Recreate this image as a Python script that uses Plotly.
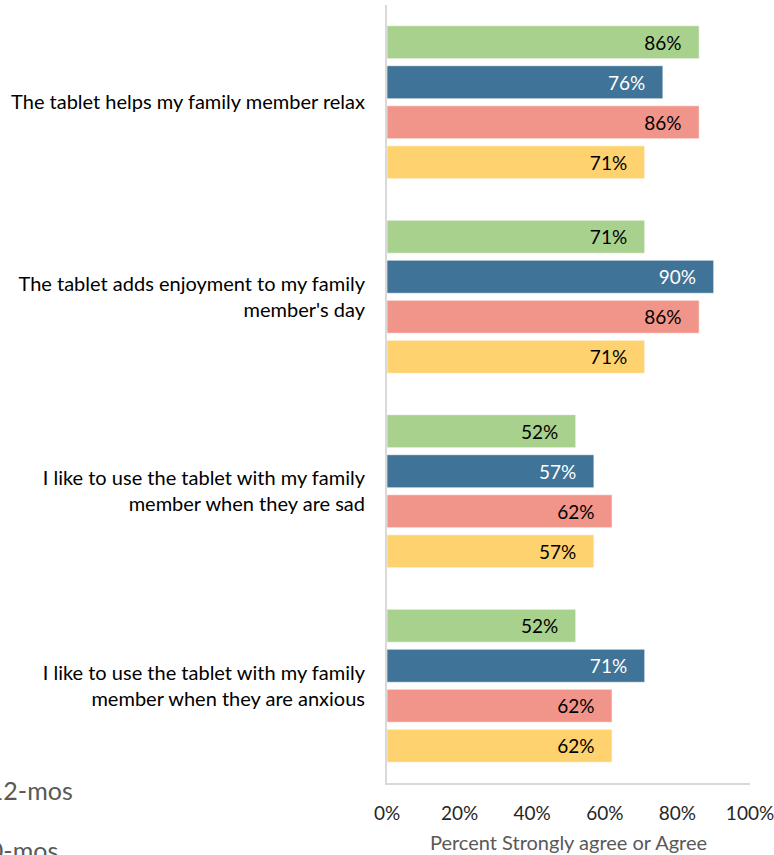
import plotly.graph_objects as go

# Survey statements (top to bottom)
statements = [
    "The tablet helps my family member relax",
    "The tablet adds enjoyment to my family<br>member's day",
    "I like to use the tablet with my family<br>member when they are sad",
    "I like to use the tablet with my family<br>member when they are anxious",
]

# Percent "Strongly agree or Agree" per time point
series_names = ["12-mos", "0-mos", "6-mos", "3-mos"]
green_vals = [86, 71, 52, 52]
blue_vals = [76, 90, 57, 71]
red_vals = [86, 86, 62, 62]
yellow_vals = [71, 71, 57, 62]

x_ticks = [0, 20, 40, 60, 80, 100]

colors = ["#A9D18E", "#3F7397", "#F1958A", "#FED26F"]
label_colors = ["#000000", "#FFFFFF", "#000000", "#000000"]
all_vals = [green_vals, blue_vals, red_vals, yellow_vals]

FONT = "Lato, Calibri, Carlito, sans-serif"
pad = "\u00a0\u00a0\u00a0"

fig = go.Figure()
for name, vals, col, lc in zip(series_names, all_vals, colors, label_colors):
    fig.add_trace(go.Bar(
        y=statements,
        x=vals,
        name=name,
        orientation="h",
        legendgroup=name,
        marker=dict(color=col, line=dict(color="rgba(255,255,255,0.6)", width=1)),
        texttemplate="%{x:.0f}%" + pad,
        textposition="inside",
        insidetextanchor="end",
        textangle=0,
        textfont=dict(family=FONT, size=19, color=lc),
        cliponaxis=False,
    ))

fig.update_layout(
    width=774,
    height=855,
    margin=dict(l=387, r=24, t=5, b=72, autoexpand=False),
    paper_bgcolor="white",
    plot_bgcolor="white",
    barmode="group",
    bargap=0.177,
    bargroupgap=0.175,
    uniformtext=dict(mode=False),
    font=dict(family=FONT, size=20, color="#000000"),
    showlegend=True,
    legend=dict(
        x=-1.207, xanchor="left",
        y=0.02, yanchor="top",
        font=dict(family=FONT, size=25, color="#595959"),
        tracegroupgap=25,
        traceorder="grouped",
        bgcolor="rgba(0,0,0,0)",
    ),
    xaxis=dict(
        range=[0, 100],
        tickvals=x_ticks,
        ticktext=[f"{v}%" for v in x_ticks],
        showgrid=False,
        zeroline=False,
        showline=True,
        linecolor="#D9D9D9",
        linewidth=2,
        ticks="outside",
        ticklen=12,
        tickcolor="rgba(0,0,0,0)",
        ticklabeloverflow="allow",
        tickfont=dict(family=FONT, size=19, color="#262626"),
        title=dict(text="Percent Strongly agree or Agree",
                   font=dict(family=FONT, size=20, color="#595959"),
                   standoff=13),
    ),
    yaxis=dict(
        autorange="reversed",
        showgrid=False,
        zeroline=False,
        showline=True,
        linecolor="#D9D9D9",
        linewidth=2,
        ticks="outside",
        ticklen=16,
        tickcolor="rgba(0,0,0,0)",
        tickfont=dict(family=FONT, size=20, color="#000000"),
    ),
)

fig.write_html("out.html")
